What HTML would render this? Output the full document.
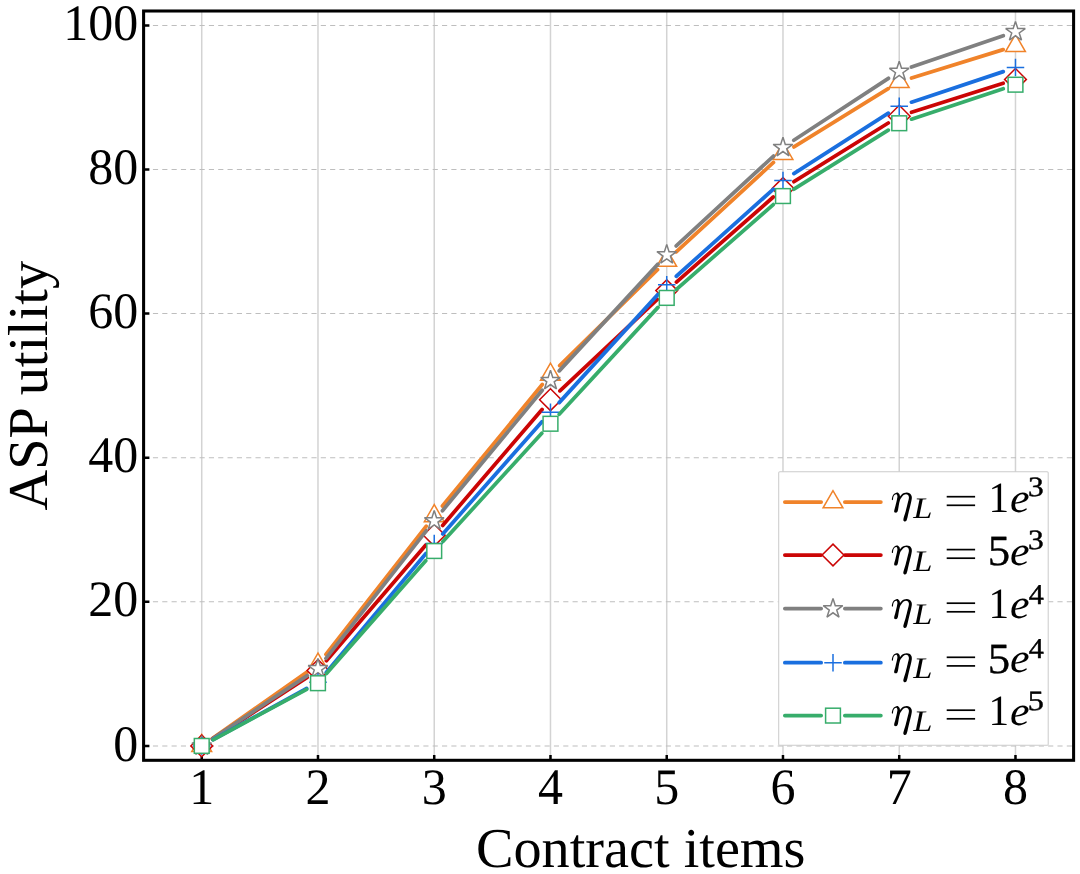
<!DOCTYPE html>
<html><head><meta charset="utf-8"><title>ASP utility vs contract items</title>
<style>html,body{margin:0;padding:0;background:#fff;}body{width:1080px;height:874px;overflow:hidden;font-family:"Liberation Serif",serif;}svg text{font-family:"Liberation Serif",serif;text-rendering:geometricPrecision;}</style></head>
<body>
<svg width="1080" height="874" viewBox="0 0 1080 874" font-family="'Liberation Serif', serif" style="display:block">
<rect width="1080" height="874" fill="#fff"/>
<path d="M201.73,11.0V760.3M317.98,11.0V760.3M434.23,11.0V760.3M550.48,11.0V760.3M666.73,11.0V760.3M782.98,11.0V760.3M899.23,11.0V760.3M1015.48,11.0V760.3" stroke="#d3d3d3" stroke-width="1.5" fill="none"/>
<path d="M143.6,745.90H1073.6M143.6,601.80H1073.6M143.6,457.70H1073.6M143.6,313.60H1073.6M143.6,169.50H1073.6M143.6,25.40H1073.6" stroke="#bebebe" stroke-width="1.04" stroke-dasharray="5.15 4.175" fill="none"/>
<path d="M201.73,760.3v-5.35M317.98,760.3v-5.35M434.23,760.3v-5.35M550.48,760.3v-5.35M666.73,760.3v-5.35M782.98,760.3v-5.35M899.23,760.3v-5.35M1015.48,760.3v-5.35M143.6,745.90h5.8M143.6,601.80h5.8M143.6,457.70h5.8M143.6,313.60h5.8M143.6,169.50h5.8M143.6,25.40h5.8" stroke="#000" stroke-width="2.5" fill="none"/>
<path d="M212.30,738.50L307.41,671.90M325.93,654.34L426.28,526.16M442.42,506.04L542.29,384.56M559.69,365.57L657.52,269.63M676.23,251.87L773.48,162.43M793.96,146.92L888.25,88.68M911.55,78.07L1003.16,49.63" fill="none" stroke="#F0832A" stroke-width="3.75" stroke-linecap="round"/>
<polygon points="201.73,734.47 191.83,751.62 211.63,751.62" fill="#fff" stroke="#F0832A" stroke-width="1.5" stroke-linejoin="miter"/>
<polygon points="317.98,653.07 308.08,670.22 327.88,670.22" fill="#fff" stroke="#F0832A" stroke-width="1.5" stroke-linejoin="miter"/>
<polygon points="434.23,504.57 424.33,521.72 444.13,521.72" fill="#fff" stroke="#F0832A" stroke-width="1.5" stroke-linejoin="miter"/>
<polygon points="550.48,363.17 540.58,380.31 560.38,380.31" fill="#fff" stroke="#F0832A" stroke-width="1.5" stroke-linejoin="miter"/>
<polygon points="666.73,249.17 656.83,266.31 676.63,266.31" fill="#fff" stroke="#F0832A" stroke-width="1.5" stroke-linejoin="miter"/>
<polygon points="782.98,142.27 773.08,159.41 792.88,159.41" fill="#fff" stroke="#F0832A" stroke-width="1.5" stroke-linejoin="miter"/>
<polygon points="899.23,70.47 889.33,87.62 909.13,87.62" fill="#fff" stroke="#F0832A" stroke-width="1.5" stroke-linejoin="miter"/>
<polygon points="1015.48,34.37 1005.58,51.52 1025.38,51.52" fill="#fff" stroke="#F0832A" stroke-width="1.5" stroke-linejoin="miter"/>
<path d="M212.55,738.88L307.16,677.47M326.39,660.67L425.82,544.98M442.63,525.41L542.08,409.49M559.89,390.87L657.32,299.43M676.42,282.09L773.29,197.01M793.93,181.69L888.28,123.01M911.53,112.31L1003.18,83.29" fill="none" stroke="#CB0505" stroke-width="3.75" stroke-linecap="round"/>
<polygon points="201.73,735.00 212.63,745.90 201.73,756.80 190.83,745.90" fill="#fff" stroke="#CB0505" stroke-width="1.5" stroke-linejoin="miter"/>
<polygon points="317.98,659.55 328.88,670.45 317.98,681.35 307.08,670.45" fill="#fff" stroke="#CB0505" stroke-width="1.5" stroke-linejoin="miter"/>
<polygon points="434.23,524.30 445.13,535.20 434.23,546.10 423.33,535.20" fill="#fff" stroke="#CB0505" stroke-width="1.5" stroke-linejoin="miter"/>
<polygon points="550.48,388.80 561.38,399.70 550.48,410.60 539.58,399.70" fill="#fff" stroke="#CB0505" stroke-width="1.5" stroke-linejoin="miter"/>
<polygon points="666.73,279.70 677.63,290.60 666.73,301.50 655.83,290.60" fill="#fff" stroke="#CB0505" stroke-width="1.5" stroke-linejoin="miter"/>
<polygon points="782.98,177.60 793.88,188.50 782.98,199.40 772.08,188.50" fill="#fff" stroke="#CB0505" stroke-width="1.5" stroke-linejoin="miter"/>
<polygon points="899.23,105.30 910.13,116.20 899.23,127.10 888.33,116.20" fill="#fff" stroke="#CB0505" stroke-width="1.5" stroke-linejoin="miter"/>
<polygon points="1015.48,68.50 1026.38,79.40 1015.48,90.30 1004.58,79.40" fill="#fff" stroke="#CB0505" stroke-width="1.5" stroke-linejoin="miter"/>
<path d="M212.47,738.75L307.24,675.60M325.96,658.31L426.25,530.79M442.46,510.72L542.25,390.28M559.24,370.88L657.97,264.12M676.21,245.90L773.50,156.10M793.77,140.28L888.44,78.32M911.44,67.08L1003.27,35.67" fill="none" stroke="#808080" stroke-width="3.75" stroke-linecap="round"/>
<polygon points="201.73,735.85 204.04,742.97 211.53,742.97 205.47,747.37 207.78,754.48 201.73,750.08 195.68,754.48 197.99,747.37 191.93,742.97 199.42,742.97" fill="#fff" stroke="#808080" stroke-width="1.5" stroke-linejoin="miter" stroke-miterlimit="2"/>
<polygon points="317.98,658.40 320.29,665.52 327.78,665.52 321.72,669.92 324.03,677.03 317.98,672.63 311.93,677.03 314.24,669.92 308.18,665.52 315.67,665.52" fill="#fff" stroke="#808080" stroke-width="1.5" stroke-linejoin="miter" stroke-miterlimit="2"/>
<polygon points="434.23,510.60 436.54,517.72 444.03,517.72 437.97,522.12 440.28,529.23 434.23,524.83 428.18,529.23 430.49,522.12 424.43,517.72 431.92,517.72" fill="#fff" stroke="#808080" stroke-width="1.5" stroke-linejoin="miter" stroke-miterlimit="2"/>
<polygon points="550.48,370.30 552.79,377.42 560.28,377.42 554.22,381.82 556.53,388.93 550.48,384.53 544.43,388.93 546.74,381.82 540.68,377.42 548.17,377.42" fill="#fff" stroke="#808080" stroke-width="1.5" stroke-linejoin="miter" stroke-miterlimit="2"/>
<polygon points="666.73,244.60 669.04,251.72 676.53,251.72 670.47,256.12 672.78,263.23 666.73,258.83 660.68,263.23 662.99,256.12 656.93,251.72 664.42,251.72" fill="#fff" stroke="#808080" stroke-width="1.5" stroke-linejoin="miter" stroke-miterlimit="2"/>
<polygon points="782.98,137.30 785.29,144.42 792.78,144.42 786.72,148.82 789.03,155.93 782.98,151.53 776.93,155.93 779.24,148.82 773.18,144.42 780.67,144.42" fill="#fff" stroke="#808080" stroke-width="1.5" stroke-linejoin="miter" stroke-miterlimit="2"/>
<polygon points="899.23,61.20 901.54,68.32 909.03,68.32 902.97,72.72 905.28,79.83 899.23,75.43 893.18,79.83 895.49,72.72 889.43,68.32 896.92,68.32" fill="#fff" stroke="#808080" stroke-width="1.5" stroke-linejoin="miter" stroke-miterlimit="2"/>
<polygon points="1015.48,21.45 1017.79,28.57 1025.28,28.57 1019.22,32.97 1021.53,40.08 1015.48,35.68 1009.43,40.08 1011.74,32.97 1005.68,28.57 1013.17,28.57" fill="#fff" stroke="#808080" stroke-width="1.5" stroke-linejoin="miter" stroke-miterlimit="2"/>
<path d="M213.05,739.71L306.66,688.49M326.26,672.41L425.95,553.44M442.78,533.89L541.93,421.81M559.18,402.62L658.03,294.38M676.33,276.24L773.38,189.16M793.85,173.60L888.36,113.20M911.47,102.18L1003.24,71.62" fill="none" stroke="#1A6FDF" stroke-width="3.75" stroke-linecap="round"/>
<path d="M192.98,745.90H210.48M201.73,737.15V754.65" fill="none" stroke="#1A6FDF" stroke-width="1.5"/>
<path d="M309.23,682.30H326.73M317.98,673.55V691.05" fill="none" stroke="#1A6FDF" stroke-width="1.5"/>
<path d="M425.48,543.55H442.98M434.23,534.80V552.30" fill="none" stroke="#1A6FDF" stroke-width="1.5"/>
<path d="M541.73,412.15H559.23M550.48,403.40V420.90" fill="none" stroke="#1A6FDF" stroke-width="1.5"/>
<path d="M657.98,284.85H675.48M666.73,276.10V293.60" fill="none" stroke="#1A6FDF" stroke-width="1.5"/>
<path d="M774.23,180.55H791.73M782.98,171.80V189.30" fill="none" stroke="#1A6FDF" stroke-width="1.5"/>
<path d="M890.48,106.25H907.98M899.23,97.50V115.00" fill="none" stroke="#1A6FDF" stroke-width="1.5"/>
<path d="M1006.73,67.55H1024.23M1015.48,58.80V76.30" fill="none" stroke="#1A6FDF" stroke-width="1.5"/>
<path d="M213.08,739.78L306.63,689.32M326.50,673.51L425.71,560.69M442.93,541.48L541.78,433.27M559.23,414.27L657.98,307.38M676.43,289.40L773.28,204.55M793.91,189.20L888.30,130.10M911.47,119.19L1003.24,88.76" fill="none" stroke="#37AD6B" stroke-width="3.75" stroke-linecap="round"/>
<rect x="194.33" y="738.50" width="14.8" height="14.8" fill="#fff" stroke="#37AD6B" stroke-width="1.5"/>
<rect x="310.58" y="675.80" width="14.8" height="14.8" fill="#fff" stroke="#37AD6B" stroke-width="1.5"/>
<rect x="426.83" y="543.60" width="14.8" height="14.8" fill="#fff" stroke="#37AD6B" stroke-width="1.5"/>
<rect x="543.08" y="416.35" width="14.8" height="14.8" fill="#fff" stroke="#37AD6B" stroke-width="1.5"/>
<rect x="659.33" y="290.50" width="14.8" height="14.8" fill="#fff" stroke="#37AD6B" stroke-width="1.5"/>
<rect x="775.58" y="188.65" width="14.8" height="14.8" fill="#fff" stroke="#37AD6B" stroke-width="1.5"/>
<rect x="891.83" y="115.85" width="14.8" height="14.8" fill="#fff" stroke="#37AD6B" stroke-width="1.5"/>
<rect x="1008.08" y="77.30" width="14.8" height="14.8" fill="#fff" stroke="#37AD6B" stroke-width="1.5"/>
<rect x="778.7" y="471.65" width="269.50" height="273.65" rx="1.1" fill="#fff" stroke="#cccccc" stroke-width="1.04"/>
<defs><mask id="lm" maskUnits="userSpaceOnUse" x="770" y="465" width="290" height="290"><rect x="770" y="465" width="290" height="290" fill="#fff"/></mask></defs>
<g mask="url(#lm)">
<path d="M784.85,502.1H821.15M844.85,502.1H880.85" stroke="#F0832A" stroke-width="3.75" stroke-linecap="round" fill="none"/>
<polygon points="833.00,490.67 823.10,507.81 842.90,507.81" fill="#fff" stroke="#F0832A" stroke-width="1.5" stroke-linejoin="miter"/>
<path d="M891.89,499.87C891.78,499.44 891.88,498.10 892.21,497.13C892.54,496.15 893.15,494.76 893.86,494.02C894.57,493.28 895.73,492.86 896.47,492.69C897.21,492.52 897.76,492.67 898.30,493.01C898.83,493.34 899.38,494.16 899.67,494.70C899.96,495.24 899.69,496.31 900.04,496.26C900.38,496.21 901.07,494.92 901.73,494.38C902.39,493.85 903.18,493.36 904.02,493.05C904.86,492.75 905.86,492.54 906.76,492.55C907.66,492.57 908.67,492.71 909.42,493.15C910.17,493.58 910.85,494.34 911.25,495.16C911.65,495.98 911.91,496.69 911.84,498.04C911.78,499.40 911.39,501.06 910.88,503.31C910.38,505.56 909.57,508.63 908.82,511.54C908.08,514.46 907.31,519.37 906.40,520.79C905.48,522.21 903.46,521.60 903.33,520.06C903.20,518.52 904.90,514.34 905.62,511.54C906.34,508.75 907.14,505.52 907.68,503.31C908.22,501.09 908.72,499.48 908.87,498.27C909.02,497.07 908.79,496.67 908.59,496.08C908.40,495.48 908.12,495.02 907.68,494.70C907.24,494.39 906.61,494.13 905.94,494.20C905.27,494.27 904.41,494.54 903.65,495.11C902.89,495.69 901.96,496.86 901.36,497.63C900.77,498.40 900.48,498.64 900.08,499.74C899.69,500.84 899.43,502.21 898.98,504.22C898.53,506.24 898.18,510.55 897.38,511.82C896.58,513.09 894.48,512.86 894.18,511.82C893.87,510.78 895.09,507.62 895.55,505.59C896.01,503.57 896.61,501.16 896.92,499.65C897.24,498.14 897.42,497.36 897.43,496.53C897.44,495.71 897.21,495.09 896.97,494.70C896.73,494.31 896.42,494.17 896.01,494.20C895.60,494.23 894.94,494.44 894.50,494.89C894.06,495.34 893.62,496.09 893.35,496.90C893.09,497.71 893.14,499.24 892.90,499.74C892.65,500.23 892.00,500.31 891.89,499.87Z" fill="#000"/>
<text transform="translate(913.31,517.80) scale(1.1553,1)" font-size="29.93" font-style="italic" fill="#000">L</text>
<rect x="946.7" y="495.85" width="28.4" height="1.7" fill="#000"/>
<rect x="946.7" y="504.45" width="28.4" height="1.7" fill="#000"/>
<text transform="translate(988.58,511.70) scale(0.9507,1)" font-size="43.32" fill="#000">1</text>
<text transform="translate(1010.05,511.80) scale(1.0696,1)" font-size="41.17" font-style="italic" fill="#000">e</text>
<text transform="translate(1028.09,496.43) scale(1.1247,1)" font-size="27.98" fill="#000" stroke="#000" stroke-width="0.45" stroke-linejoin="round">3</text>
<path d="M784.85,555.0H821.15M844.85,555.0H880.85" stroke="#CB0505" stroke-width="3.75" stroke-linecap="round" fill="none"/>
<polygon points="833.00,544.10 843.90,555.00 833.00,565.90 822.10,555.00" fill="#fff" stroke="#CB0505" stroke-width="1.5" stroke-linejoin="miter"/>
<path d="M891.89,552.77C891.78,552.34 891.88,551.00 892.21,550.03C892.54,549.05 893.15,547.66 893.86,546.92C894.57,546.18 895.73,545.76 896.47,545.59C897.21,545.42 897.76,545.57 898.30,545.91C898.83,546.24 899.38,547.06 899.67,547.60C899.96,548.14 899.69,549.21 900.04,549.16C900.38,549.11 901.07,547.82 901.73,547.28C902.39,546.75 903.18,546.26 904.02,545.95C904.86,545.65 905.86,545.44 906.76,545.45C907.66,545.47 908.67,545.61 909.42,546.05C910.17,546.48 910.85,547.24 911.25,548.06C911.65,548.88 911.91,549.59 911.84,550.94C911.78,552.30 911.39,553.96 910.88,556.21C910.38,558.46 909.57,561.53 908.82,564.44C908.08,567.36 907.31,572.27 906.40,573.69C905.48,575.11 903.46,574.50 903.33,572.96C903.20,571.42 904.90,567.24 905.62,564.44C906.34,561.65 907.14,558.42 907.68,556.21C908.22,553.99 908.72,552.38 908.87,551.17C909.02,549.97 908.79,549.57 908.59,548.98C908.40,548.38 908.12,547.92 907.68,547.60C907.24,547.29 906.61,547.03 905.94,547.10C905.27,547.17 904.41,547.44 903.65,548.01C902.89,548.59 901.96,549.76 901.36,550.53C900.77,551.30 900.48,551.54 900.08,552.64C899.69,553.74 899.43,555.11 898.98,557.12C898.53,559.14 898.18,563.45 897.38,564.72C896.58,565.99 894.48,565.76 894.18,564.72C893.87,563.68 895.09,560.52 895.55,558.49C896.01,556.47 896.61,554.06 896.92,552.55C897.24,551.04 897.42,550.26 897.43,549.43C897.44,548.61 897.21,547.99 896.97,547.60C896.73,547.21 896.42,547.07 896.01,547.10C895.60,547.13 894.94,547.34 894.50,547.79C894.06,548.24 893.62,548.99 893.35,549.80C893.09,550.61 893.14,552.14 892.90,552.64C892.65,553.13 892.00,553.21 891.89,552.77Z" fill="#000"/>
<text transform="translate(913.31,570.70) scale(1.1553,1)" font-size="29.93" font-style="italic" fill="#000">L</text>
<rect x="946.7" y="548.75" width="28.4" height="1.7" fill="#000"/>
<rect x="946.7" y="557.35" width="28.4" height="1.7" fill="#000"/>
<text transform="translate(987.79,564.88) scale(1.0440,1)" font-size="43.04" fill="#000" stroke="#000" stroke-width="0.35" stroke-linejoin="round">5</text>
<text transform="translate(1010.05,564.70) scale(1.0696,1)" font-size="41.17" font-style="italic" fill="#000">e</text>
<text transform="translate(1028.09,549.33) scale(1.1247,1)" font-size="27.98" fill="#000" stroke="#000" stroke-width="0.45" stroke-linejoin="round">3</text>
<path d="M784.85,608.6H821.15M844.85,608.6H880.85" stroke="#808080" stroke-width="3.75" stroke-linecap="round" fill="none"/>
<polygon points="833.00,598.55 835.31,605.67 842.80,605.67 836.74,610.07 839.05,617.18 833.00,612.78 826.95,617.18 829.26,610.07 823.20,605.67 830.69,605.67" fill="#fff" stroke="#808080" stroke-width="1.5" stroke-linejoin="miter" stroke-miterlimit="2"/>
<path d="M891.89,606.37C891.78,605.94 891.88,604.60 892.21,603.63C892.54,602.65 893.15,601.26 893.86,600.52C894.57,599.78 895.73,599.36 896.47,599.19C897.21,599.02 897.76,599.17 898.30,599.51C898.83,599.84 899.38,600.66 899.67,601.20C899.96,601.74 899.69,602.81 900.04,602.76C900.38,602.71 901.07,601.42 901.73,600.88C902.39,600.35 903.18,599.86 904.02,599.55C904.86,599.25 905.86,599.04 906.76,599.05C907.66,599.07 908.67,599.21 909.42,599.65C910.17,600.08 910.85,600.84 911.25,601.66C911.65,602.48 911.91,603.19 911.84,604.54C911.78,605.90 911.39,607.56 910.88,609.81C910.38,612.06 909.57,615.13 908.82,618.04C908.08,620.96 907.31,625.87 906.40,627.29C905.48,628.71 903.46,628.10 903.33,626.56C903.20,625.02 904.90,620.84 905.62,618.04C906.34,615.25 907.14,612.02 907.68,609.81C908.22,607.59 908.72,605.98 908.87,604.77C909.02,603.57 908.79,603.17 908.59,602.58C908.40,601.98 908.12,601.52 907.68,601.20C907.24,600.89 906.61,600.63 905.94,600.70C905.27,600.77 904.41,601.04 903.65,601.61C902.89,602.19 901.96,603.36 901.36,604.13C900.77,604.90 900.48,605.14 900.08,606.24C899.69,607.34 899.43,608.71 898.98,610.72C898.53,612.74 898.18,617.05 897.38,618.32C896.58,619.59 894.48,619.36 894.18,618.32C893.87,617.28 895.09,614.12 895.55,612.09C896.01,610.07 896.61,607.66 896.92,606.15C897.24,604.64 897.42,603.86 897.43,603.03C897.44,602.21 897.21,601.59 896.97,601.20C896.73,600.81 896.42,600.67 896.01,600.70C895.60,600.73 894.94,600.94 894.50,601.39C894.06,601.84 893.62,602.59 893.35,603.40C893.09,604.21 893.14,605.74 892.90,606.24C892.65,606.73 892.00,606.81 891.89,606.37Z" fill="#000"/>
<text transform="translate(913.31,624.30) scale(1.1553,1)" font-size="29.93" font-style="italic" fill="#000">L</text>
<rect x="946.7" y="602.35" width="28.4" height="1.7" fill="#000"/>
<rect x="946.7" y="610.95" width="28.4" height="1.7" fill="#000"/>
<text transform="translate(988.58,618.20) scale(0.9507,1)" font-size="43.32" fill="#000">1</text>
<text transform="translate(1010.05,618.30) scale(1.0696,1)" font-size="41.17" font-style="italic" fill="#000">e</text>
<text transform="translate(1028.71,603.50) scale(1.0489,1)" font-size="28.71" fill="#000" stroke="#000" stroke-width="0.45" stroke-linejoin="round">4</text>
<path d="M784.85,662.7H821.15M844.85,662.7H880.85" stroke="#1A6FDF" stroke-width="3.75" stroke-linecap="round" fill="none"/>
<path d="M824.25,662.70H841.75M833.00,653.95V671.45" fill="none" stroke="#1A6FDF" stroke-width="1.5"/>
<path d="M891.89,660.47C891.78,660.04 891.88,658.70 892.21,657.73C892.54,656.75 893.15,655.36 893.86,654.62C894.57,653.88 895.73,653.46 896.47,653.29C897.21,653.12 897.76,653.27 898.30,653.61C898.83,653.94 899.38,654.76 899.67,655.30C899.96,655.84 899.69,656.91 900.04,656.86C900.38,656.81 901.07,655.52 901.73,654.98C902.39,654.45 903.18,653.96 904.02,653.65C904.86,653.35 905.86,653.14 906.76,653.15C907.66,653.17 908.67,653.31 909.42,653.75C910.17,654.18 910.85,654.94 911.25,655.76C911.65,656.58 911.91,657.29 911.84,658.64C911.78,660.00 911.39,661.66 910.88,663.91C910.38,666.16 909.57,669.23 908.82,672.14C908.08,675.06 907.31,679.97 906.40,681.39C905.48,682.81 903.46,682.20 903.33,680.66C903.20,679.12 904.90,674.94 905.62,672.14C906.34,669.35 907.14,666.12 907.68,663.91C908.22,661.69 908.72,660.08 908.87,658.87C909.02,657.67 908.79,657.27 908.59,656.68C908.40,656.08 908.12,655.62 907.68,655.30C907.24,654.99 906.61,654.73 905.94,654.80C905.27,654.87 904.41,655.14 903.65,655.71C902.89,656.29 901.96,657.46 901.36,658.23C900.77,659.00 900.48,659.24 900.08,660.34C899.69,661.44 899.43,662.81 898.98,664.82C898.53,666.84 898.18,671.15 897.38,672.42C896.58,673.69 894.48,673.46 894.18,672.42C893.87,671.38 895.09,668.22 895.55,666.19C896.01,664.17 896.61,661.76 896.92,660.25C897.24,658.74 897.42,657.96 897.43,657.13C897.44,656.31 897.21,655.69 896.97,655.30C896.73,654.91 896.42,654.77 896.01,654.80C895.60,654.83 894.94,655.04 894.50,655.49C894.06,655.94 893.62,656.69 893.35,657.50C893.09,658.31 893.14,659.84 892.90,660.34C892.65,660.83 892.00,660.91 891.89,660.47Z" fill="#000"/>
<text transform="translate(913.31,678.40) scale(1.1553,1)" font-size="29.93" font-style="italic" fill="#000">L</text>
<rect x="946.7" y="656.45" width="28.4" height="1.7" fill="#000"/>
<rect x="946.7" y="665.05" width="28.4" height="1.7" fill="#000"/>
<text transform="translate(987.79,672.58) scale(1.0440,1)" font-size="43.04" fill="#000" stroke="#000" stroke-width="0.35" stroke-linejoin="round">5</text>
<text transform="translate(1010.05,672.40) scale(1.0696,1)" font-size="41.17" font-style="italic" fill="#000">e</text>
<text transform="translate(1028.71,657.60) scale(1.0489,1)" font-size="28.71" fill="#000" stroke="#000" stroke-width="0.45" stroke-linejoin="round">4</text>
<path d="M784.85,715.6H821.15M844.85,715.6H880.85" stroke="#37AD6B" stroke-width="3.75" stroke-linecap="round" fill="none"/>
<rect x="825.60" y="708.20" width="14.8" height="14.8" fill="#fff" stroke="#37AD6B" stroke-width="1.5"/>
<path d="M891.89,713.37C891.78,712.94 891.88,711.60 892.21,710.63C892.54,709.65 893.15,708.26 893.86,707.52C894.57,706.78 895.73,706.36 896.47,706.19C897.21,706.02 897.76,706.17 898.30,706.51C898.83,706.84 899.38,707.66 899.67,708.20C899.96,708.74 899.69,709.81 900.04,709.76C900.38,709.71 901.07,708.42 901.73,707.88C902.39,707.35 903.18,706.86 904.02,706.55C904.86,706.25 905.86,706.04 906.76,706.05C907.66,706.07 908.67,706.21 909.42,706.65C910.17,707.08 910.85,707.84 911.25,708.66C911.65,709.48 911.91,710.19 911.84,711.54C911.78,712.90 911.39,714.56 910.88,716.81C910.38,719.06 909.57,722.13 908.82,725.04C908.08,727.96 907.31,732.87 906.40,734.29C905.48,735.71 903.46,735.10 903.33,733.56C903.20,732.02 904.90,727.84 905.62,725.04C906.34,722.25 907.14,719.02 907.68,716.81C908.22,714.59 908.72,712.98 908.87,711.77C909.02,710.57 908.79,710.17 908.59,709.58C908.40,708.98 908.12,708.52 907.68,708.20C907.24,707.89 906.61,707.63 905.94,707.70C905.27,707.77 904.41,708.04 903.65,708.61C902.89,709.19 901.96,710.36 901.36,711.13C900.77,711.90 900.48,712.14 900.08,713.24C899.69,714.34 899.43,715.71 898.98,717.72C898.53,719.74 898.18,724.05 897.38,725.32C896.58,726.59 894.48,726.36 894.18,725.32C893.87,724.28 895.09,721.12 895.55,719.09C896.01,717.07 896.61,714.66 896.92,713.15C897.24,711.64 897.42,710.86 897.43,710.03C897.44,709.21 897.21,708.59 896.97,708.20C896.73,707.81 896.42,707.67 896.01,707.70C895.60,707.73 894.94,707.94 894.50,708.39C894.06,708.84 893.62,709.59 893.35,710.40C893.09,711.21 893.14,712.74 892.90,713.24C892.65,713.73 892.00,713.81 891.89,713.37Z" fill="#000"/>
<text transform="translate(913.31,731.30) scale(1.1553,1)" font-size="29.93" font-style="italic" fill="#000">L</text>
<rect x="946.7" y="709.35" width="28.4" height="1.7" fill="#000"/>
<rect x="946.7" y="717.95" width="28.4" height="1.7" fill="#000"/>
<text transform="translate(988.58,725.20) scale(0.9507,1)" font-size="43.32" fill="#000">1</text>
<text transform="translate(1010.05,725.30) scale(1.0696,1)" font-size="41.17" font-style="italic" fill="#000">e</text>
<text transform="translate(1027.72,710.13) scale(1.1530,1)" font-size="27.99" fill="#000" stroke="#000" stroke-width="0.45" stroke-linejoin="round">5</text>
</g>
<rect x="143.6" y="11.0" width="930.00" height="749.30" fill="none" stroke="#000" stroke-width="3.05" stroke-linejoin="miter"/>
<text transform="translate(201.73,803.8) scale(1,1.022)" font-size="50" text-anchor="middle">1</text>
<text transform="translate(317.98,803.8) scale(1,1.022)" font-size="50" text-anchor="middle">2</text>
<text transform="translate(434.23,803.8) scale(1,1.022)" font-size="50" text-anchor="middle">3</text>
<text transform="translate(550.48,803.8) scale(1,1.022)" font-size="50" text-anchor="middle">4</text>
<text transform="translate(666.73,803.8) scale(1,1.022)" font-size="50" text-anchor="middle">5</text>
<text transform="translate(782.98,803.8) scale(1,1.022)" font-size="50" text-anchor="middle">6</text>
<text transform="translate(899.23,803.8) scale(1,1.022)" font-size="50" text-anchor="middle">7</text>
<text transform="translate(1015.48,803.8) scale(1,1.022)" font-size="50" text-anchor="middle">8</text>
<text transform="translate(138.2,760.50) scale(1,1.022)" font-size="50" text-anchor="end">0</text>
<text transform="translate(138.2,616.40) scale(1,1.022)" font-size="50" text-anchor="end">20</text>
<text transform="translate(138.2,472.30) scale(1,1.022)" font-size="50" text-anchor="end">40</text>
<text transform="translate(138.2,328.20) scale(1,1.022)" font-size="50" text-anchor="end">60</text>
<text transform="translate(138.2,184.10) scale(1,1.022)" font-size="50" text-anchor="end">80</text>
<text transform="translate(138.2,40.00) scale(1,1.022)" font-size="50" text-anchor="end">100</text>
<text x="640.7" y="867.2" font-size="56.25" text-anchor="middle">Contract items</text>
<text transform="translate(47.0,385.65) rotate(-90)" font-size="56.25" text-anchor="middle">ASP utility</text>
</svg>
</body></html>
